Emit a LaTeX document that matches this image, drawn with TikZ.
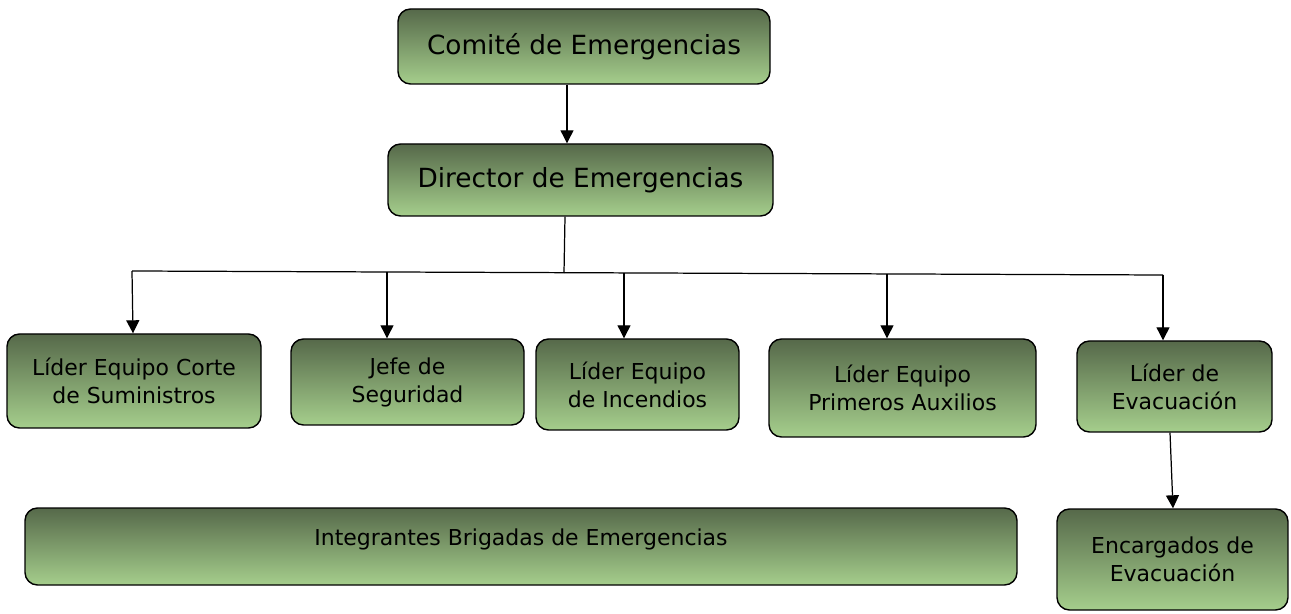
\documentclass[tikz,border=0pt]{standalone}
\usepackage{fontspec}
\setmainfont{DejaVu Sans}
\usetikzlibrary{arrows.meta}
\definecolor{gtop}{HTML}{56694A}
\definecolor{gbot}{HTML}{A5CE8C}
\tikzset{
  box/.style={draw=black, line width=0.8pt, rounded corners=0.25cm, top color=gtop, bottom color=gbot, align=center, inner sep=0pt, font=\fontsize{12.5}{16}\selectfont},
  bigbox/.style={box, font=\fontsize{15}{18}\selectfont},
  conn/.style={line width=0.7pt, -{Triangle[length=0.26cm,width=0.26cm]}},
  plain/.style={line width=0.7pt}
}
\begin{document}
\begin{tikzpicture}[x=0.02cm,y=-0.02cm]
\useasboundingbox (0,0) rectangle (1291,614);
\node[bigbox, minimum width=372*0.02cm, minimum height=75*0.02cm] (comite) at (584,46.5) {Comité de Emergencias};
\node[bigbox, minimum width=385*0.02cm, minimum height=72*0.02cm] (director) at (580.5,180) {Director de Emergencias};
\node[box, minimum width=254*0.02cm, minimum height=94*0.02cm] (corte) at (134,381) {Líder Equipo Corte\\de Suministros};
\node[box, minimum width=233*0.02cm, minimum height=86*0.02cm] (jefe) at (407.5,382) {Jefe de\\Seguridad};
\node[box, minimum width=203*0.02cm, minimum height=91*0.02cm] (incendios) at (637.5,384.5) {Líder Equipo\\de Incendios};
\node[box, minimum width=267*0.02cm, minimum height=98*0.02cm] (auxilios) at (902.5,388) {Líder Equipo\\Primeros Auxilios};
\node[box, minimum width=195*0.02cm, minimum height=91*0.02cm] (evac) at (1174.5,386.5) {Líder de\\Evacuación};
\node[box, minimum width=231*0.02cm, minimum height=101*0.02cm] (encargados) at (1172.5,559.5) {Encargados de\\Evacuación};
\node[box, minimum width=992*0.02cm, minimum height=77*0.02cm, text depth=18*0.02cm] (integrantes) at (521,546.5) {Integrantes Brigadas de Emergencias};
\coordinate (bus) at (564,273);
\coordinate (busL) at (132,271);
\coordinate (busR) at (1163,275);
\draw[conn] (comite.south -| 567,0) -- (director.north -| 567,0);
\draw[plain] (director.south -| 565,0) -- (bus);
\draw[plain] (busL) -- (busR);
\draw[conn] (busL) -- (corte.north -| 133,0);
\draw[conn] (387,272) -- (jefe.north -| 387,0);
\draw[conn] (624,273) -- (incendios.north -| 624,0);
\draw[conn] (887,274) -- (auxilios.north -| 887,0);
\draw[conn] (busR) -- (evac.north -| 1163,0);
\draw[conn] (evac.south -| 1170,0) -- (encargados.north -| 1173,0);
\end{tikzpicture}
\end{document}
